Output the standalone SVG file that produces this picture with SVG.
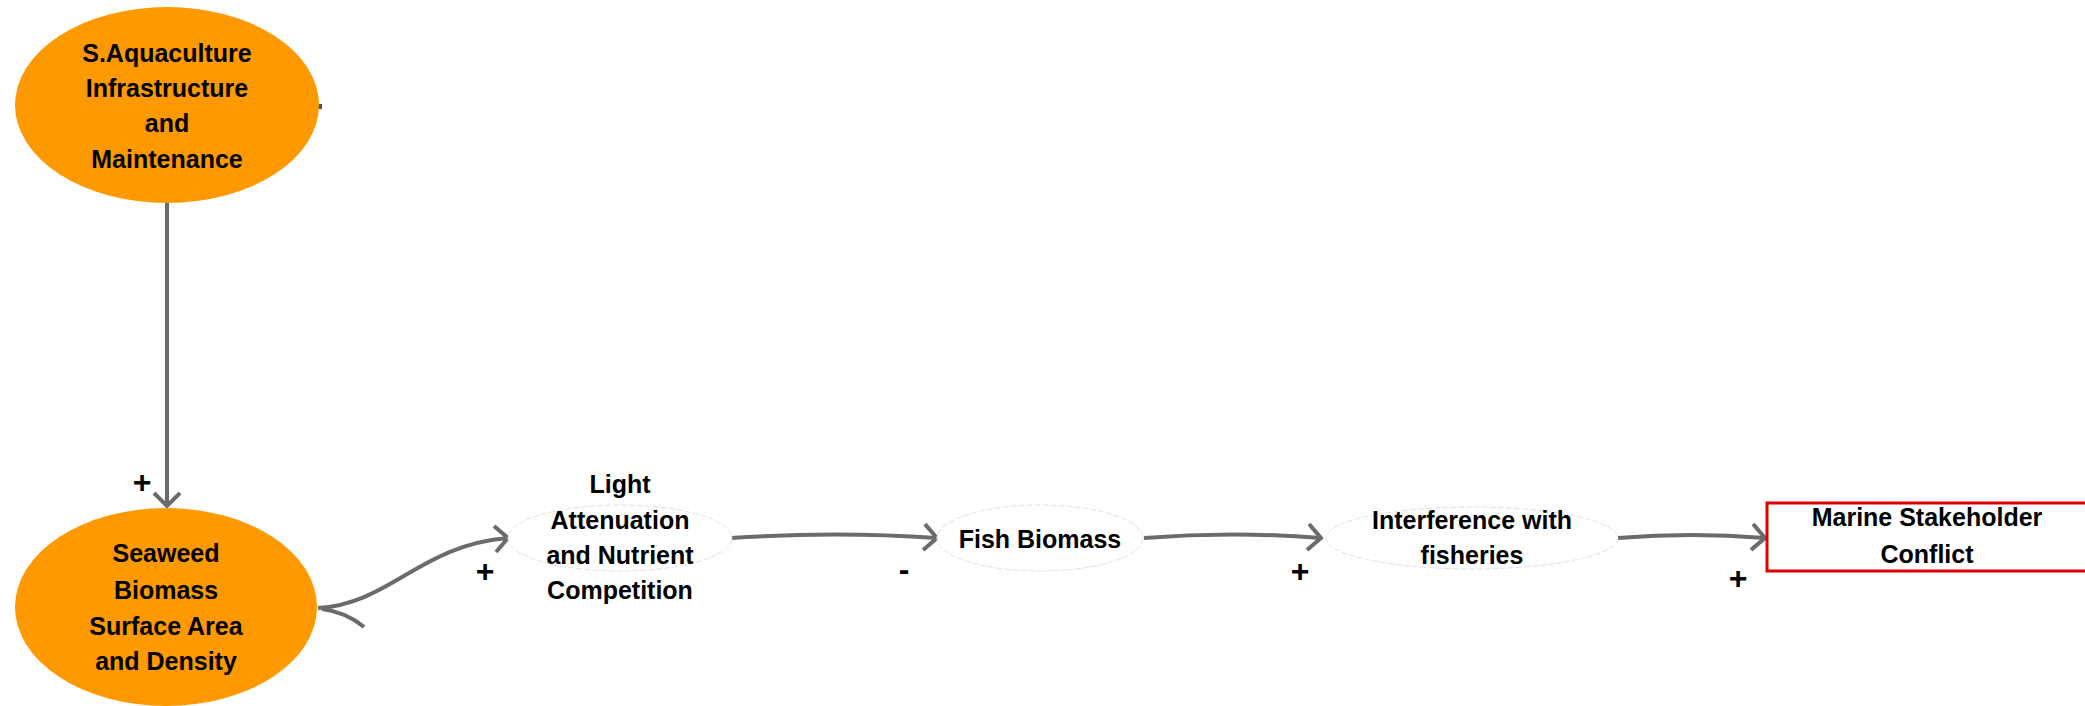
<svg xmlns="http://www.w3.org/2000/svg" width="2085" height="706" viewBox="0 0 2085 706">
<style>
.t{font-family:"Liberation Sans",Arial,sans-serif;font-weight:bold;font-size:25px;fill:#000;text-anchor:middle;dominant-baseline:central}
.lbl{font-family:"Liberation Sans",Arial,sans-serif;font-weight:bold;font-size:32px;fill:#000;text-anchor:middle;dominant-baseline:central}
.or{fill:#FF9900;stroke:none}
.ghost{fill:#fff;stroke:#e2e2e2;stroke-width:1;stroke-dasharray:6 2}
.c{fill:none;stroke:#6b6b6b;stroke-width:4;stroke-linecap:butt}
</style>
<defs>
<marker id="arr" markerUnits="userSpaceOnUse" markerWidth="40" markerHeight="40" refX="0" refY="0" viewBox="-20 -20 40 40" orient="auto" overflow="visible">
<path d="M -13 -13 L 0 0 L -13 13" fill="none" stroke="#6b6b6b" stroke-width="4"/>
</marker>
</defs>
<rect width="2085" height="706" fill="#fff"/>
<g id="connectors">
<path class="c" d="M 167 203 L 167 506" marker-end="url(#arr)"/>
<path class="c" d="M 318 608 C 390 604, 420 545, 508 538" marker-end="url(#arr)"/>
<path class="c" d="M 322 609 Q 346 612 364 627"/>
<path class="c" d="M 731 538 Q 835 531 937 538" marker-end="url(#arr)"/>
<path class="c" d="M 1144 538 Q 1233 531 1321 538" marker-end="url(#arr)"/>
<path class="c" d="M 1618 538 Q 1692 532 1765 538" marker-end="url(#arr)"/>
<rect x="317" y="104" width="5" height="5" fill="#555"/>
<text class="lbl" x="142" y="482">+</text>
<text class="lbl" x="485" y="571">+</text>
<text class="lbl" x="904" y="569">-</text>
<text class="lbl" x="1300" y="571">+</text>
<text class="lbl" x="1738" y="578">+</text>
</g>
<g id="n_infra">
<ellipse class="or" cx="167" cy="105" rx="152" ry="98"/>
<text class="t" x="167" y="53">S.Aquaculture</text>
<text class="t" x="167" y="88">Infrastructure</text>
<text class="t" x="167" y="123">and</text>
<text class="t" x="167" y="159">Maintenance</text>
</g>
<g id="n_seaweed">
<ellipse class="or" cx="166" cy="607" rx="151" ry="99"/>
<text class="t" x="166" y="553">Seaweed</text>
<text class="t" x="166" y="590">Biomass</text>
<text class="t" x="166" y="626">Surface Area</text>
<text class="t" x="166" y="661">and Density</text>
</g>
<g id="n_light">
<ellipse class="ghost" cx="620" cy="538" rx="112" ry="33"/>
<text class="t" x="620" y="484">Light</text>
<text class="t" x="620" y="520">Attenuation</text>
<text class="t" x="620" y="555">and Nutrient</text>
<text class="t" x="620" y="590">Competition</text>
</g>
<g id="n_fish">
<ellipse class="ghost" cx="1040" cy="538" rx="103" ry="33"/>
<text class="t" x="1040" y="539">Fish Biomass</text>
</g>
<g id="n_interf">
<ellipse class="ghost" cx="1472" cy="538" rx="146" ry="31"/>
<text class="t" x="1472" y="520">Interference with</text>
<text class="t" x="1472" y="555">fisheries</text>
</g>
<g id="n_marine">
<rect x="1767" y="503" width="330" height="68" fill="#fff" stroke="#e00000" stroke-width="3"/>
<text class="t" x="1927" y="517">Marine Stakeholder</text>
<text class="t" x="1927" y="554">Conflict</text>
</g>
</svg>
